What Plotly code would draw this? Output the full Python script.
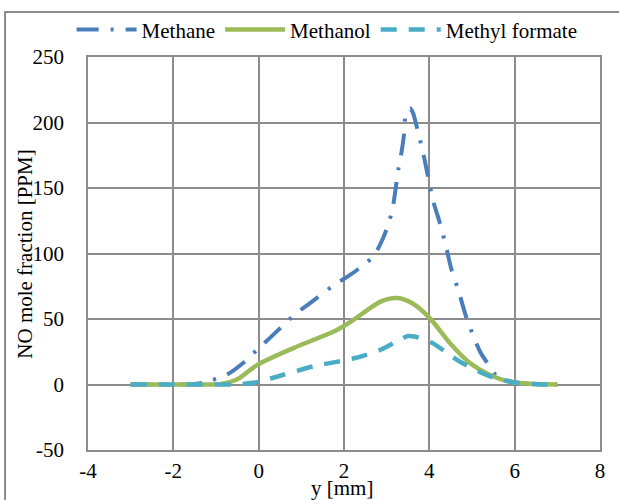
import plotly.graph_objects as go

methane_x = [-3, -2, -1.6, -1.29, -0.74, -0.35, -0.03, 0.52, 0.83, 1.22, 1.77, 2.16, 2.5, 2.69, 2.93, 3.07, 3.16, 3.27, 3.35, 3.41, 3.45, 3.55, 3.62, 3.74, 3.84, 3.97, 4.09, 4.25, 4.41, 4.51, 4.68, 4.87, 5.19, 5.42, 5.58, 6.0, 6.5, 7]
methane_y = [0, 0, 0.2, 1.5, 7.6, 16.8, 26.7, 43.4, 53, 62.5, 76, 84, 92.5, 97.6, 112.8, 125.6, 138.3, 163.7, 177.7, 191.8, 207, 210.8, 207, 192, 179, 158.6, 140, 123, 102.7, 88.7, 72, 51, 25, 13.6, 6.5, 1.5, 0.2, 0]

methanol_x = [-3, -2, -1.2, -0.9, -0.5, -0.03, 0.83, 1.77, 2.16, 2.87, 3.26, 3.6, 4.0, 4.48, 4.95, 5.42, 5.89, 6.5, 7]
methanol_y = [0, 0, 0, 0.3, 4, 15, 28, 40.6, 48, 63.5, 66, 62, 51, 31.7, 16.4, 7.3, 2.1, 0.3, 0]

formate_x = [-3, -2, -1, -0.5, -0.03, 0.52, 1.3, 2.24, 2.87, 3.3, 3.5, 3.65, 4.05, 4.52, 4.75, 5.22, 5.53, 6.0, 6.5, 7]
formate_y = [0, 0, 0, 0.2, 1.8, 6.9, 14, 20, 26.7, 34, 37, 36.6, 32, 21.6, 16.8, 9, 5, 1.5, 0.2, 0]

x_ticks = [-4, -2, 0, 2, 4, 6, 8]
y_ticks = [-50, 0, 50, 100, 150, 200, 250]

FONT = "Liberation Serif"

fig = go.Figure()
fig.add_trace(go.Scatter(x=methane_x, y=methane_y, name="Methane", mode="lines",
                         line=dict(color="#4A7EBB", width=4, dash="22px,12px,3px,12px", shape="spline", smoothing=0.7)))
fig.add_trace(go.Scatter(x=methanol_x, y=methanol_y, name="Methanol", mode="lines",
                         line=dict(color="#9BBB59", width=4.5, shape="spline", smoothing=0.8)))
fig.add_trace(go.Scatter(x=formate_x, y=formate_y, name="Methyl formate", mode="lines",
                         line=dict(color="#4BACC6", width=4.5, dash="16px,12px", shape="spline", smoothing=0.8)))

fig.update_layout(
    width=619, height=500,
    margin=dict(l=88, r=19, t=57, b=50, autoexpand=False),
    paper_bgcolor="white", plot_bgcolor="white",
    font=dict(family=FONT, size=21, color="black"),
    showlegend=True,
    legend=dict(orientation="h", x=0.467, xanchor="center", y=1.069, yanchor="middle",
                font=dict(family=FONT, size=21), bgcolor="rgba(0,0,0,0)", itemwidth=60,
                tracegroupgap=0),
    shapes=[dict(type="rect", xref="paper", yref="paper", x0=-0.162, x1=1.2, y0=-0.3, y1=1.1145,
                 line=dict(color="#8C8C8C", width=2), layer="below")],
    annotations=[
        dict(text="y [mm]", xref="paper", yref="paper", x=0.496, y=-0.0967, xanchor="center",
             yanchor="middle", showarrow=False, font=dict(family=FONT, size=21, color="black")),
        dict(text="NO mole fraction [PPM]", xref="paper", yref="paper", x=-0.123, y=0.497,
             xanchor="center", yanchor="middle", textangle=-90, showarrow=False,
             font=dict(family=FONT, size=21, color="black")),
    ],
)
fig.update_xaxes(range=[-4, 8], tickvals=x_ticks, ticktext=[str(v) for v in x_ticks],
                 showgrid=True, gridcolor="#8C8C8C", gridwidth=1.5, automargin=False,
                 zeroline=False, showline=True, linecolor="#8C8C8C", linewidth=1.5, mirror=True,
                 ticks="", ticklabelstandoff=1, tickfont=dict(family=FONT, size=21))
fig.update_yaxes(range=[-50, 250], tickvals=y_ticks, ticktext=[str(v) for v in y_ticks],
                 showgrid=True, gridcolor="#8C8C8C", gridwidth=1.5, automargin=False,
                 zeroline=False, showline=True, linecolor="#8C8C8C", linewidth=1.5, mirror=True,
                 ticks="", ticklabelstandoff=18, tickfont=dict(family=FONT, size=21))

fig.write_html("out.html")
